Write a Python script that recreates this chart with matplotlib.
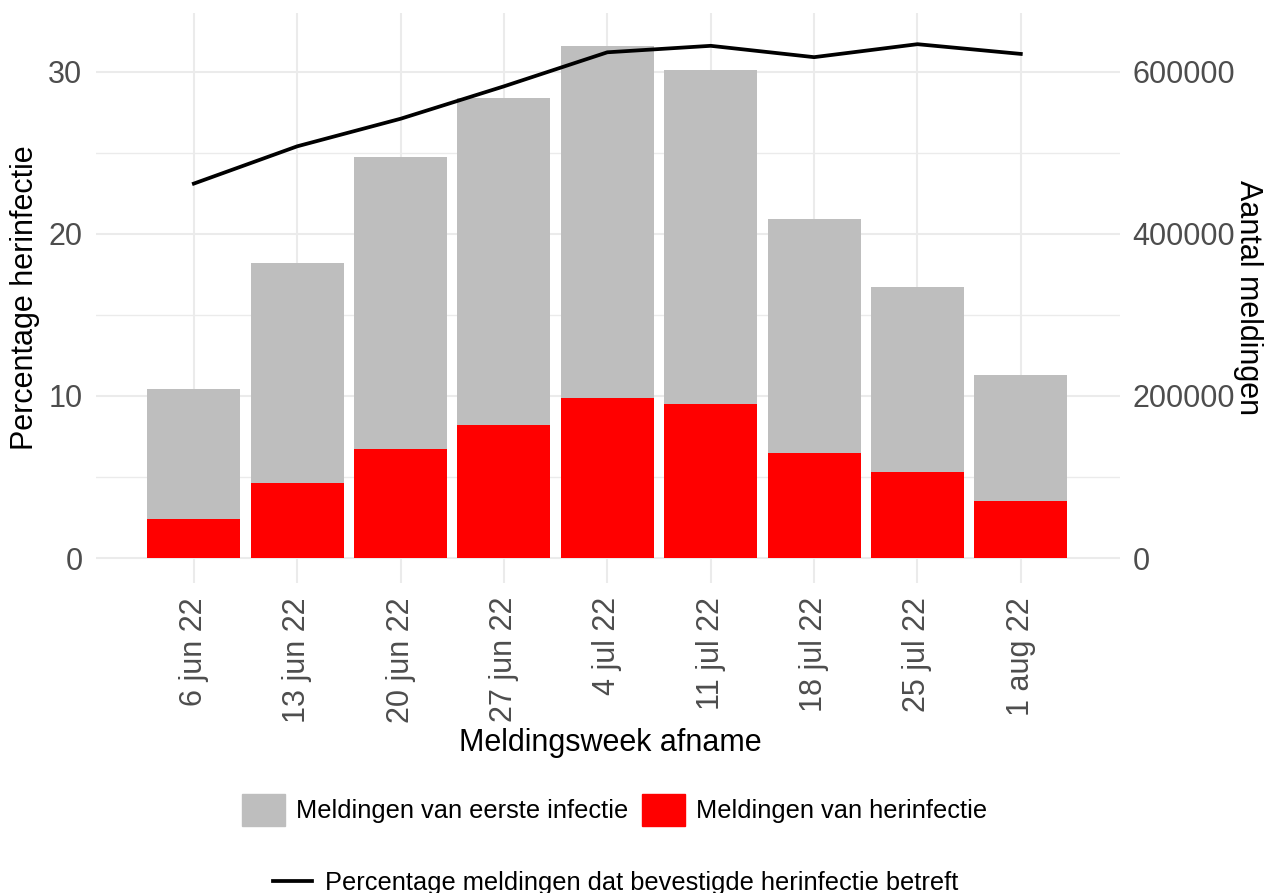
import matplotlib
matplotlib.use('Agg')
import matplotlib.pyplot as plt
from matplotlib.patches import Patch
from matplotlib.lines import Line2D
import numpy as np

plt.rcParams['font.family'] = ['Liberation Sans', 'DejaVu Sans']

# data
weeks = ['6 jun 22', '13 jun 22', '20 jun 22', '27 jun 22', '4 jul 22',
         '11 jul 22', '18 jul 22', '25 jul 22', '1 aug 22']
herinfectie = [48100, 92600, 134600, 164200, 197500, 190100, 129600, 106200, 70400]
eerste_infectie = [160500, 271600, 360500, 403700, 434600, 412400, 288900, 228400, 155500]
percentage = [23.1, 25.4, 27.1, 29.1, 31.2, 31.6, 30.9, 31.7, 31.1]

left_ticks = [0, 10, 20, 30]
right_ticks = [0, 200000, 400000, 600000]
scale = 20000   # 1 procent op de linker as = 20000 meldingen rechts

grey = '#BEBEBE'
red = '#FF0000'
tick_col = '#4D4D4D'
grid_col = '#EBEBEB'

fig = plt.figure(figsize=(12.67, 8.93), dpi=100)
fig.patch.set_facecolor('white')
ax_bar = fig.add_axes([0.0755, 0.347, 0.8085, 0.638])
ax_line = ax_bar.twinx()

x = np.arange(len(weeks))

# gestapelde staven (rechter as)
ax_bar.bar(x, herinfectie, width=0.9, color=red, zorder=2)
ax_bar.bar(x, eerste_infectie, width=0.9, bottom=herinfectie, color=grey, zorder=2)

# lijn (linker as)
ax_line.plot(x, percentage, color='black', lw=2.7)

ylim = (-1.55, 33.6)
ax_line.set_ylim(*ylim)
ax_bar.set_ylim(ylim[0] * scale, ylim[1] * scale)
ax_bar.set_xlim(-0.95, 8.96)

ax_bar.set_xticks(x)
ax_bar.set_xticklabels(weeks, rotation=90, va='top', ha='center')
ax_bar.set_yticks(right_ticks)
ax_bar.set_yticklabels([str(t) for t in right_ticks])
ax_bar.set_yticks([100000, 300000, 500000], minor=True)
ax_bar.yaxis.tick_right()
ax_line.yaxis.tick_left()
ax_line.set_yticks(left_ticks)

ax_bar.set_axisbelow(True)
ax_bar.grid(axis='x', which='major', color=grid_col, lw=1.5)
ax_bar.grid(axis='y', which='major', color=grid_col, lw=1.5)
ax_bar.grid(axis='y', which='minor', color=grid_col, lw=1.0)

for a in (ax_bar, ax_line):
    for s in a.spines.values():
        s.set_visible(False)
    a.tick_params(which='both', length=0, labelsize=22, labelcolor=tick_col)
ax_bar.tick_params(axis='x', pad=10)
ax_bar.tick_params(axis='y', pad=9)
ax_line.tick_params(axis='y', pad=9.5)

fig.text(25 / 1267, 1 - 298 / 893, 'Percentage herinfectie', rotation=90,
         ha='center', va='center', fontsize=22)
fig.text(1248 / 1267, 1 - 298 / 893, 'Aantal meldingen', rotation=270,
         ha='center', va='center', fontsize=22)
fig.text(610 / 1267, 1 - 743 / 893, 'Meldingsweek afname',
         ha='center', va='center', fontsize=22)

bar_handles = [Patch(color=grey, label='Meldingen van eerste infectie'),
               Patch(color=red, label='Meldingen van herinfectie')]
fig.legend(handles=bar_handles, ncol=2, loc='center', bbox_to_anchor=(0.485, 0.093),
           frameon=False, fontsize=18.3, handlelength=1.7, handleheight=1.6,
           handletextpad=0.44, columnspacing=0.52)
line_handle = [Line2D([], [], color='black', lw=2.7,
                      label='Percentage meldingen dat bevestigde herinfectie betreft')]
fig.legend(handles=line_handle, loc='center', bbox_to_anchor=(0.486, 0.011),
           frameon=False, fontsize=18.3, handlelength=1.5, handletextpad=0.52)

fig.savefig('out.png', dpi=100)
